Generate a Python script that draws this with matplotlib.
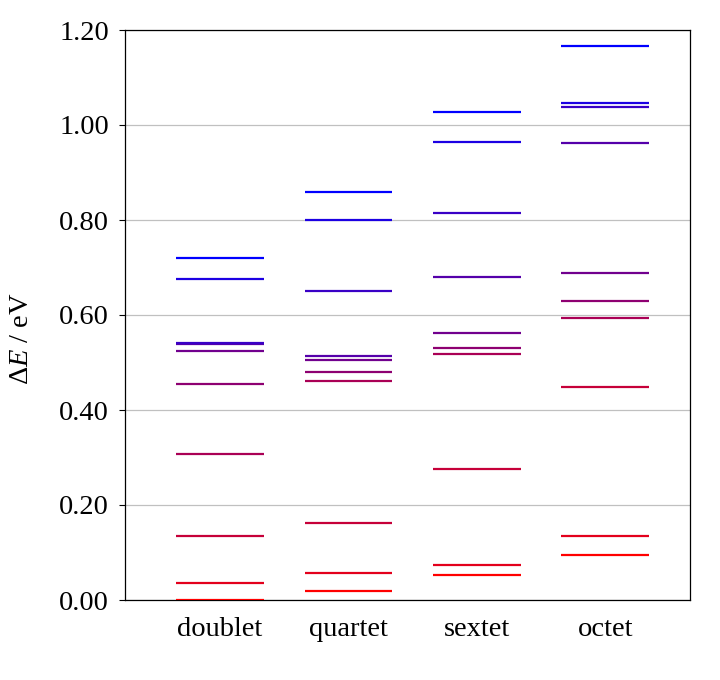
import matplotlib
matplotlib.use("Agg")
import matplotlib.pyplot as plt

# spin states and their excitation energies (eV), lowest first
states = ["doublet", "quartet", "sextet", "octet"]
doublet = [0.000, 0.035, 0.135, 0.308, 0.455, 0.525, 0.539, 0.541, 0.676, 0.721]
quartet = [0.019, 0.057, 0.162, 0.462, 0.479, 0.505, 0.514, 0.651, 0.800, 0.860]
sextet = [0.053, 0.074, 0.276, 0.517, 0.530, 0.563, 0.681, 0.815, 0.965, 1.028]
octet = [0.095, 0.135, 0.449, 0.594, 0.630, 0.689, 0.963, 1.037, 1.046, 1.167]
levels = [doublet, quartet, sextet, octet]
yticks = [0.0, 0.2, 0.4, 0.6, 0.8, 1.0, 1.2]

plt.rcParams["font.family"] = "Liberation Serif"
plt.rcParams["mathtext.fontset"] = "custom"
plt.rcParams["mathtext.rm"] = "Liberation Serif"
plt.rcParams["mathtext.it"] = "Liberation Serif:italic"


def main():
    """ energy level diagram """
    fig = plt.figure(figsize=(7.2, 6.8), dpi=100)
    ax = fig.add_axes([125 / 720, 80 / 680, 565 / 720, 570 / 680])
    half = 0.342
    for i, energies in enumerate(levels):
        n = len(energies)
        for k, e in enumerate(energies):
            t = k / (n - 1)
            ax.hlines(e, i - half, i + half, color=(1 - t, 0, t), linewidth=1.6, zorder=3)
    ax.set_xlim(-0.74, 3.66)
    ax.set_ylim(0, 1.2)
    ax.set_yticks(yticks)
    ax.set_yticklabels([f"{v:.2f}" for v in yticks])
    ax.set_xticks(range(len(states)))
    ax.set_xticklabels(states)
    ax.tick_params(axis="x", length=0, pad=12, labelsize=20.5)
    ax.tick_params(axis="y", direction="out", length=4.5, width=0.8, pad=7, labelsize=20.5)
    ax.grid(axis="y", color="#c0c0c0", linewidth=0.9, zorder=0)
    for s in ax.spines.values():
        s.set_linewidth(0.9)
    fig.text(22 / 720, 1 - 339 / 680, r"$\Delta E$ / eV", fontsize=20.5,
             rotation=90, ha="center", va="center")
    fig.savefig("out.png", dpi=100)


main()
